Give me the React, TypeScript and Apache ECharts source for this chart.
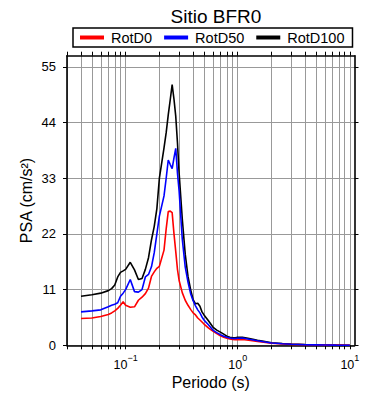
import React, { useEffect, useRef } from "react";
import * as echarts from "echarts";

const periods = [0.04, 0.05, 0.06, 0.07, 0.075, 0.08, 0.085, 0.09, 0.095, 0.1,
  0.11, 0.12, 0.13, 0.14, 0.15, 0.16, 0.17, 0.18, 0.19, 0.2,
  0.22, 0.23, 0.24, 0.25, 0.26, 0.27, 0.28, 0.29, 0.3,
  0.32, 0.34, 0.36, 0.38, 0.4,
  0.42, 0.44, 0.46, 0.48, 0.5,
  0.55, 0.6, 0.65, 0.7, 0.75, 0.8, 0.85, 0.9, 0.95, 1.0,
  1.1, 1.2, 1.3, 1.5, 1.7, 2.0,
  2.5, 3, 4, 5, 6, 7.5, 10];

const rotD100 = [9.7, 10.0, 10.3, 10.8, 11.2, 11.9, 13.5, 14.4, 14.7, 15.0,
  16.4, 14.9, 13.0, 13.2, 15.0, 17.3, 20.8, 23.5, 27.0, 33.0,
  39.0, 42.0, 45.5, 48.5, 51.5, 48.6, 45.2, 40.0, 34.0,
  25.0, 18.0, 13.6, 11.0, 9.0,
  8.2, 8.3, 7.7, 6.6, 6.0,
  4.8, 3.6, 3.0, 2.6, 2.2, 1.8, 1.6, 1.5, 1.5, 1.6,
  1.6, 1.45, 1.3, 1.0, 0.8, 0.5,
  0.35, 0.25, 0.15, 0.1, 0.06, 0.04, 0.02];

const rotD50 = [6.6, 6.8, 7.0, 7.6, 7.9, 8.1, 8.4, 9.7, 10.3, 11.0,
  13.0, 10.6, 10.5, 11.0, 13.5, 14.0, 15.5, 18.3, 22.0, 25.5,
  29.5, 33.0, 36.6, 35.7, 34.9, 37.0, 38.9, 34.0, 30.5,
  21.0, 15.5, 12.5, 10.2, 8.8,
  7.8, 7.0, 6.4, 5.6, 5.0,
  4.0, 3.0, 2.5, 2.1, 1.8, 1.6, 1.45, 1.35, 1.35, 1.4,
  1.45, 1.3, 1.15, 0.9, 0.7, 0.45,
  0.3, 0.2, 0.12, 0.08, 0.05, 0.03, 0.02];

const rotD0 = [5.3, 5.4, 5.7, 6.1, 6.4, 6.8, 7.3, 7.9, 8.6, 7.9,
  7.5, 7.6, 8.9, 9.5, 10.2, 11.3, 13.6, 14.5, 15.2, 15.6,
  18.8, 23.0, 26.4, 26.5, 26.2, 22.0, 18.5, 15.0, 12.8,
  10.4, 8.9, 7.9, 7.1, 6.4,
  6.0, 5.4, 5.0, 4.6, 4.2,
  3.4, 2.8, 2.3, 1.9, 1.6, 1.4, 1.25, 1.15, 1.1, 1.1,
  1.15, 1.05, 0.95, 0.75, 0.6, 0.4,
  0.25, 0.18, 0.1, 0.06, 0.04, 0.03, 0.01];

const yTicks = [0, 11, 22, 33, 44, 55];
const xDecades = [-1, 0, 1];
const xMinorMultipliers = [1, 2, 3, 4, 5, 6, 7, 8, 9];
const xDecadeStarts = [0.01, 0.1, 1, 10];

const X_MIN = 0.03;
const X_MAX = 11;
const Y_MAX = 57.2;

const FONT = "'Liberation Sans', Arial, Helvetica, sans-serif";

export default function App() {
  const ref = useRef<HTMLDivElement>(null);
  useEffect(() => {
    if (!ref.current) return;
    const chart = echarts.init(ref.current, null, { renderer: "svg" });
    const lxMin = Math.log10(X_MIN);
    const lxMax = Math.log10(X_MAX);
    const tickVals: number[] = [];
    xDecadeStarts.forEach((d) => {
      xMinorMultipliers.forEach((m) => {
        const v = Math.log10(d * m);
        if (v >= lxMin - 1e-9 && v <= lxMax + 1e-9) tickVals.push(v);
      });
    });
    const toPairs = (arr: number[]) => periods.map((p, i) => [Math.log10(p), arr[i]]);
    const axisLine = { show: true, onZero: false, lineStyle: { color: "#000", width: 1.6 } };
    const tick = { show: true, inside: false, length: 4, lineStyle: { color: "#000", width: 1 } };
    const option: any = {
      animation: false,
      textStyle: { fontFamily: FONT },
      title: {
        text: "Sitio BFR0",
        left: 211,
        top: 2,
        textAlign: "center",
        textStyle: { fontFamily: FONT, fontSize: 19, fontWeight: "normal", color: "#000" },
      },
      legend: {
        data: ["RotD0", "RotD50", "RotD100"],
        left: 73,
        top: 28,
        icon: "rect",
        itemWidth: 24,
        itemHeight: 4,
        itemGap: 12,
        padding: [2, 8, 2, 7],
        borderColor: "#000",
        borderWidth: 1.5,
        textStyle: { fontFamily: FONT, fontSize: 14.5, color: "#000", padding: [0, 0, 0, 2] },
      },
      grid: {
        left: 67,
        right: 35.5,
        top: 55.7,
        bottom: 54.7,
        containLabel: false,
        outerBoundsMode: "none",
      },
      xAxis: [
        {
          type: "value",
          position: "bottom",
          min: lxMin,
          max: lxMax,
          name: "Periodo (s)",
          nameLocation: "middle",
          nameGap: 29,
          nameMoveOverlap: false,
          nameTextStyle: { fontFamily: FONT, fontSize: 16, color: "#000" },
          axisLine,
          axisTick: { ...tick, customValues: tickVals },
          splitLine: { show: true, lineStyle: { color: "#999", width: 1 } },
          axisLabel: {
            customValues: xDecades,
            margin: 8,
            color: "#000",
            formatter: (v: number) => `{b|10}{s|${Math.round(v) < 0 ? "\u2212" + Math.abs(Math.round(v)) : Math.round(v)}}`,
            rich: {
              b: { fontFamily: FONT, fontSize: 12.5, color: "#000", verticalAlign: "bottom", lineHeight: 18 },
              s: { fontFamily: FONT, fontSize: 9, color: "#000", verticalAlign: "top", lineHeight: 10 },
            },
          },
        },
        {
          type: "value",
          position: "top",
          min: lxMin,
          max: lxMax,
          axisLine,
          axisTick: { ...tick, customValues: tickVals },
          axisLabel: { show: false },
          splitLine: { show: false },
        },
      ],
      yAxis: [
        {
          type: "value",
          position: "left",
          min: 0,
          max: Y_MAX,
          name: "PSA (cm/s\u00B2)",
          nameLocation: "middle",
          nameGap: 33,
          nameMoveOverlap: false,
          nameTextStyle: { fontFamily: FONT, fontSize: 16, color: "#000" },
          axisLine,
          axisTick: { ...tick, customValues: yTicks },
          axisLabel: { customValues: yTicks, margin: 11, color: "#000", fontFamily: FONT, fontSize: 13 },
          splitLine: { show: true, lineStyle: { color: "#999", width: 1 } },
        },
        {
          type: "value",
          position: "right",
          min: 0,
          max: Y_MAX,
          axisLine,
          axisTick: { ...tick, customValues: yTicks },
          axisLabel: { show: false },
          splitLine: { show: false },
        },
      ],
      series: [
        {
          name: "RotD100",
          type: "line",
          data: toPairs(rotD100),
          showSymbol: false,
          symbol: "none",
          color: "#000000",
          lineStyle: { color: "#000000", width: 1.6 },
        },
        {
          name: "RotD0",
          type: "line",
          data: toPairs(rotD0),
          showSymbol: false,
          symbol: "none",
          color: "#ff0000",
          lineStyle: { color: "#ff0000", width: 1.6 },
        },
        {
          name: "RotD50",
          type: "line",
          data: toPairs(rotD50),
          showSymbol: false,
          symbol: "none",
          color: "#0000ff",
          lineStyle: { color: "#0000ff", width: 1.6 },
        },
      ],
    };
    chart.setOption(option);
    return () => chart.dispose();
  }, []);
  return (
    <div
      ref={ref}
      style={{ position: "fixed", left: 0, top: 0, width: 390, height: 400, background: "#fff" }}
    />
  );
}
